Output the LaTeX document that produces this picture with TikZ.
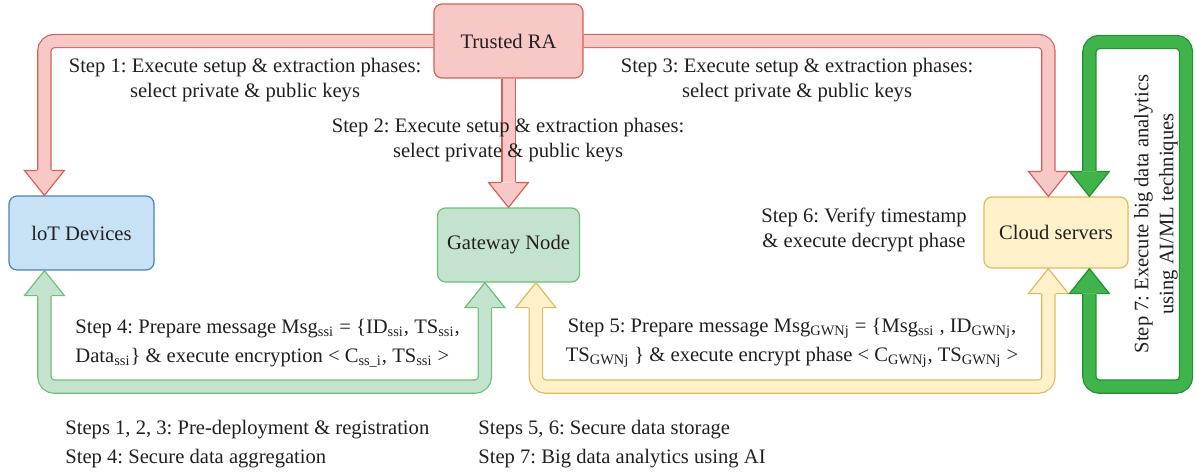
\documentclass[tikz,border=0pt]{standalone}
\usepackage{fontspec}
\setmainfont{Liberation Serif}
\frenchspacing
\usetikzlibrary{calc, backgrounds}
\definecolor{raFill}{RGB}{248,200,198}
\definecolor{raLine}{RGB}{214,96,88}
\definecolor{iotFill}{RGB}{199,226,245}
\definecolor{iotLine}{RGB}{74,128,190}
\definecolor{gwFill}{RGB}{196,227,206}
\definecolor{gwLine}{RGB}{110,190,120}
\definecolor{csFill}{RGB}{255,241,201}
\definecolor{csLine}{RGB}{228,183,92}
\definecolor{loopFill}{RGB}{62,180,74}
\definecolor{loopLine}{RGB}{30,145,48}
\definecolor{txt}{RGB}{35,31,32}

\tikzset{
  box/.style={draw, rounded corners=4pt, line width=0.6pt, inner sep=0pt,
    font=\fontsize{10.3}{12.5}\selectfont, text=txt},
  band/.style={line width=0.6pt, double distance=6pt, rounded corners=5pt},
  lbl/.style={font=\fontsize{10.3}{12.5}\selectfont, text=txt, inner sep=0pt,
    align=center},
  msg/.style={lbl, font=\fontsize{10.3}{14.5}\selectfont},
}
% flexible arrow head: style, tip, angle (-90 down, 90 up)
\newcommand{\flexhead}[3]{%
  \filldraw[#1, line width=0.6pt, shift={#2}, rotate=#3]
    (-25,-7.2) -- (-25,-20) -- (0,0) -- (-25,20) -- (-25,7.2);}

\begin{document}
\begin{tikzpicture}[x=0.5pt, y=-0.5pt]
        \useasboundingbox (0,0) rectangle (1196,472);

        % ── Boxes ───────────────────────────────────────────────────────
        \node[box, draw=raLine, fill=raFill, minimum width=74.5pt,
              minimum height=37pt] (ra) at (508.5,41) {Trusted RA};
        \node[box, draw=iotLine, fill=iotFill, minimum width=72.5pt,
              minimum height=37pt] (iot) at (81.5,233) {loT Devices};
        \node[box, draw=gwLine, fill=gwFill, minimum width=71pt,
              minimum height=37pt] (gw) at (508.5,245) {Gateway Node};
        \node[box, draw=csLine, fill=csFill, minimum width=72pt,
              minimum height=35.5pt] (cs) at (1056,232.5) {Cloud servers};

        % ── Arrow tips on the boxes ─────────────────────────────────────
        \coordinate (t1) at ($(iot.north west)+(36,0)$);
        \coordinate (t2) at (gw.north);
        \coordinate (t3) at ($(cs.north west)+(65,0)$);
        \coordinate (t4) at ($(cs.north west)+(106,0)$);
        \coordinate (t5) at ($(iot.south west)+(36,0)$);
        \coordinate (t6) at ($(gw.south west)+(48,0)$);
        \coordinate (t7) at ($(gw.south west)+(99,0)$);
        \coordinate (t8) at ($(cs.south west)+(65,0)$);
        \coordinate (t9) at ($(cs.south west)+(106,0)$);

        % ── Bands (behind the boxes) ────────────────────────────────────
        \begin{pgfonlayer}{background}
          \draw[band, draw=raLine, double=raFill] (ra.west) -| ($(t1)+(0,-25)$);
          \draw[band, draw=raLine, double=raFill] (ra.south) -- ($(t2)+(0,-25)$);
          \draw[band, draw=raLine, double=raFill] (ra.east) -| ($(t3)+(0,-25)$);
          \draw[band, draw=loopLine, double=loopFill]
            ($(t9)+(0,25)$) -- ++(0,93) -| (1186,42) -| ($(t4)+(0,-25)$);
          \draw[band, draw=gwLine, double=gwFill]
            ($(t5)+(0,25)$) |- ($(t6)+(0,104)$) -- ($(t6)+(0,25)$);
          \draw[band, draw=csLine, double=csFill]
            ($(t7)+(0,25)$) -- ($(t7)+(0,104)$) -| ($(t8)+(0,25)$);
        \end{pgfonlayer}

        % ── Heads ───────────────────────────────────────────────────────
        \flexhead{draw=raLine, fill=raFill}{(t1)}{-90}
        \flexhead{draw=raLine, fill=raFill}{(t2)}{-90}
        \flexhead{draw=raLine, fill=raFill}{(t3)}{-90}
        \flexhead{draw=loopLine, fill=loopFill}{(t4)}{-90}
        \flexhead{draw=gwLine, fill=gwFill}{(t5)}{90}
        \flexhead{draw=gwLine, fill=gwFill}{(t6)}{90}
        \flexhead{draw=csLine, fill=csFill}{(t7)}{90}
        \flexhead{draw=csLine, fill=csFill}{(t8)}{90}
        \flexhead{draw=loopLine, fill=loopFill}{(t9)}{90}

        % ── Step labels ─────────────────────────────────────────────────
        \node[lbl] (s1) at (245,80)
              {Step 1: Execute setup \& extraction phases:\\select private \& public keys};
        \node[lbl] (s2) at (508,140)
              {Step 2: Execute setup \& extraction phases:\\select private \& public keys};
        \node[lbl] (s3) at (797,80)
              {Step 3: Execute setup \& extraction phases:\\select private \& public keys};
        \node[lbl] (s6) at (864,230)
              {Step 6: Verify timestamp\\\& execute decrypt phase};
        \node[msg, align=left, anchor=west] (s4) at (75,343)
              {Step 4: Prepare message Msg\textsubscript{ssi} = \{ID\textsubscript{ssi}, TS\textsubscript{ssi},\\
               Data\textsubscript{ssi}\} \& execute encryption < C\textsubscript{ss\_i}, TS\textsubscript{ssi} >};
        \node[msg] (s5) at (792,343)
              {Step 5: Prepare message Msg\textsubscript{GWNj} = \{Msg\textsubscript{ssi} , ID\textsubscript{GWNj},\\
               TS\textsubscript{GWNj} \} \& execute encrypt phase < C\textsubscript{GWNj}, TS\textsubscript{GWNj} >};
        \node[lbl, rotate=90] (s7) at (1156,214)
              {Step 7: Execute big data analytics\\using AI/ML techniques};

        % ── Legend ──────────────────────────────────────────────────────
        \node[msg, align=left, anchor=west] (leg1) at (65,444)
              {Steps 1, 2, 3: Pre-deployment \& registration\\Step 4: Secure data aggregation};
        \node[msg, align=left, anchor=west] (leg2) at (478,444)
              {Steps 5, 6: Secure data storage\\Step 7: Big data analytics using AI};
      \end{tikzpicture}
\end{document}
